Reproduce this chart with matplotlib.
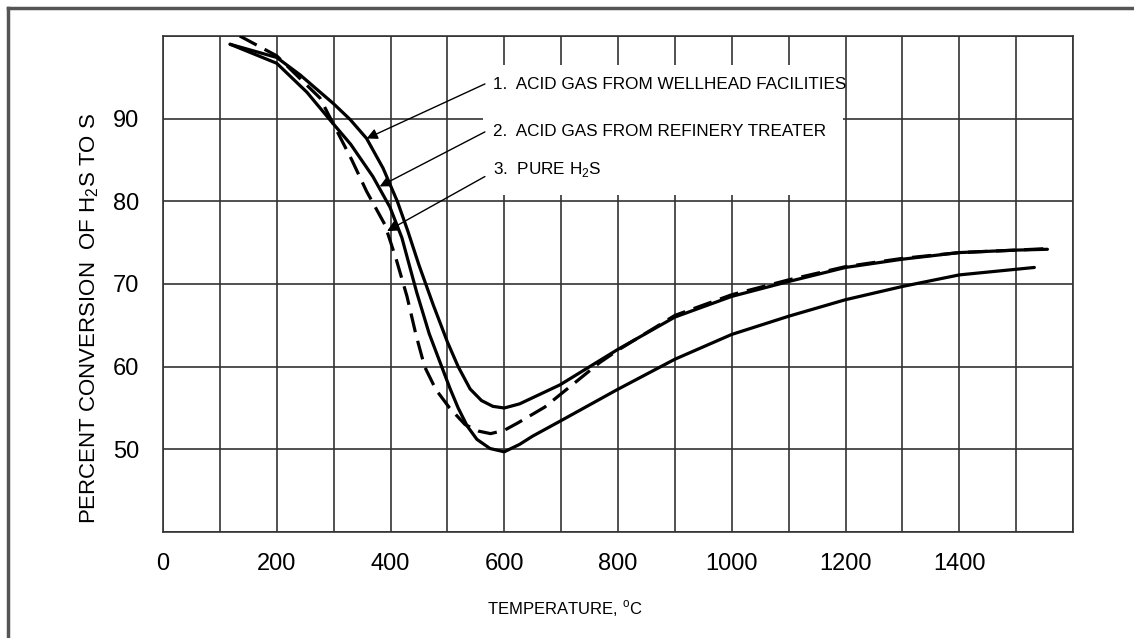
import matplotlib
matplotlib.use("Agg")
import matplotlib.pyplot as plt
from matplotlib.patches import Rectangle
from matplotlib.lines import Line2D

# 1. acid gas from wellhead facilities
temp_well = [118, 200, 241, 300, 329, 358, 387, 412, 430, 450, 475, 500, 519, 540, 560, 580, 600, 627, 698, 800, 900, 1000, 1100, 1200, 1300, 1400, 1500, 1555]
conv_well = [99.0, 97.4, 95.3, 91.8, 89.9, 87.6, 84.0, 80.0, 76.5, 72.3, 67.5, 63.0, 60.0, 57.3, 55.9, 55.2, 55.0, 55.5, 57.8, 62.1, 66.0, 68.5, 70.3, 72.0, 73.0, 73.8, 74.1, 74.2]

# 2. acid gas from refinery treater
temp_ref = [118, 200, 253, 293, 330, 369, 399, 420, 446, 468, 490, 505, 519, 535, 552, 575, 600, 627, 650, 698, 798, 900, 1000, 1100, 1200, 1300, 1400, 1532]
conv_ref = [99.0, 96.7, 93.2, 89.9, 86.9, 83.0, 79.3, 75.6, 69.0, 64.0, 60.0, 57.3, 55.0, 52.8, 51.2, 50.1, 49.7, 50.6, 51.6, 53.4, 57.2, 60.9, 63.9, 66.1, 68.1, 69.7, 71.1, 72.0]

# 3. pure H2S
temp_pure = [135, 200, 276, 332, 358, 390, 410, 429, 445, 460, 480, 504, 531, 555, 576, 600, 624, 671, 768, 800, 900, 1000, 1100, 1200, 1300, 1400, 1500, 1560]
conv_pure = [100.0, 97.6, 92.5, 85.0, 81.2, 77.2, 73.0, 68.5, 63.8, 60.0, 57.2, 55.0, 53.0, 52.2, 51.9, 52.3, 53.2, 55.1, 60.5, 62.0, 66.2, 68.7, 70.5, 72.1, 73.1, 73.8, 74.1, 74.3]

xticks = [0, 200, 400, 600, 800, 1000, 1200, 1400]
yticks = [50, 60, 70, 80, 90]

font = ['Liberation Sans', 'DejaVu Sans']

fig = plt.figure(figsize=(11.34, 6.38), dpi=100)
ax = fig.add_axes([163/1134, 106/638, 910/1134, 496/638])

ax.plot(temp_well, conv_well, color='k', lw=2.3, zorder=3, solid_capstyle='round', solid_joinstyle='round')
ax.plot(temp_ref, conv_ref, color='k', lw=2.3, zorder=3, solid_capstyle='round', solid_joinstyle='round')
ax.plot(temp_pure, conv_pure, color='k', lw=2.3, zorder=3, linestyle=(0, (6, 2.8)))

ax.set_xlim(0, 1600)
ax.set_ylim(40, 100)
ax.set_xticks(range(0, 1601, 100))
ax.set_yticks(range(40, 101, 10))
ax.set_xticklabels([str(v) if v in xticks else '' for v in range(0, 1601, 100)])
ax.set_yticklabels([str(v) if v in yticks else '' for v in range(40, 101, 10)])
ax.tick_params(length=0)
ax.tick_params(axis='x', pad=15)
ax.tick_params(axis='y', pad=17)
for lab in ax.get_xticklabels() + ax.get_yticklabels():
    lab.set_family(font)
    lab.set_fontsize(17)

ax.set_axisbelow(True)
ax.grid(True, color='#333333', lw=1.2)
for s in ax.spines.values():
    s.set_color('#333333')
    s.set_linewidth(1.2)

# white box behind the labels
ax.add_patch(Rectangle((562, 80.8), 633, 15.7, facecolor='white', edgecolor='none', zorder=1))

labels = ['1.  ACID GAS FROM WELLHEAD FACILITIES',
          '2.  ACID GAS FROM REFINERY TREATER',
          '3.  PURE H$_\\mathregular{2}$S']
label_y = [94.1, 88.4, 83.8]
tips = [(358, 87.6), (381, 81.8), (394, 76.4)]
starts = [(566, 94.2), (566, 88.4), (566, 83.0)]
for txt, ty, tip, st in zip(labels, label_y, tips, starts):
    ax.text(580, ty, txt, family=font, fontsize=12.3, va='center', ha='left', zorder=4)
    ax.annotate('', xy=tip, xytext=st,
                arrowprops=dict(arrowstyle='-|>', color='k', lw=1.0, mutation_scale=16,
                                shrinkA=0, shrinkB=0), zorder=4)

fig.text(90/1134, 1 - 318/638, 'PERCENT CONVERSION  OF H$_\\mathregular{2}$S TO S',
         rotation=90, family=font, fontsize=16, ha='center', va='center')
fig.text(565/1134, 1 - 609/638, 'TEMPERATURE, $^\\mathregular{o}$C',
         family=font, fontsize=12, ha='center', va='center')

# outer frame (left and top edges)
fig.add_artist(Line2D([8/1134, 8/1134], [0, 1 - 8/638], color='#555555', lw=2.5))
fig.add_artist(Line2D([8/1134, 1], [1 - 8/638, 1 - 8/638], color='#555555', lw=2.5))

fig.savefig('out.png', dpi=100)
